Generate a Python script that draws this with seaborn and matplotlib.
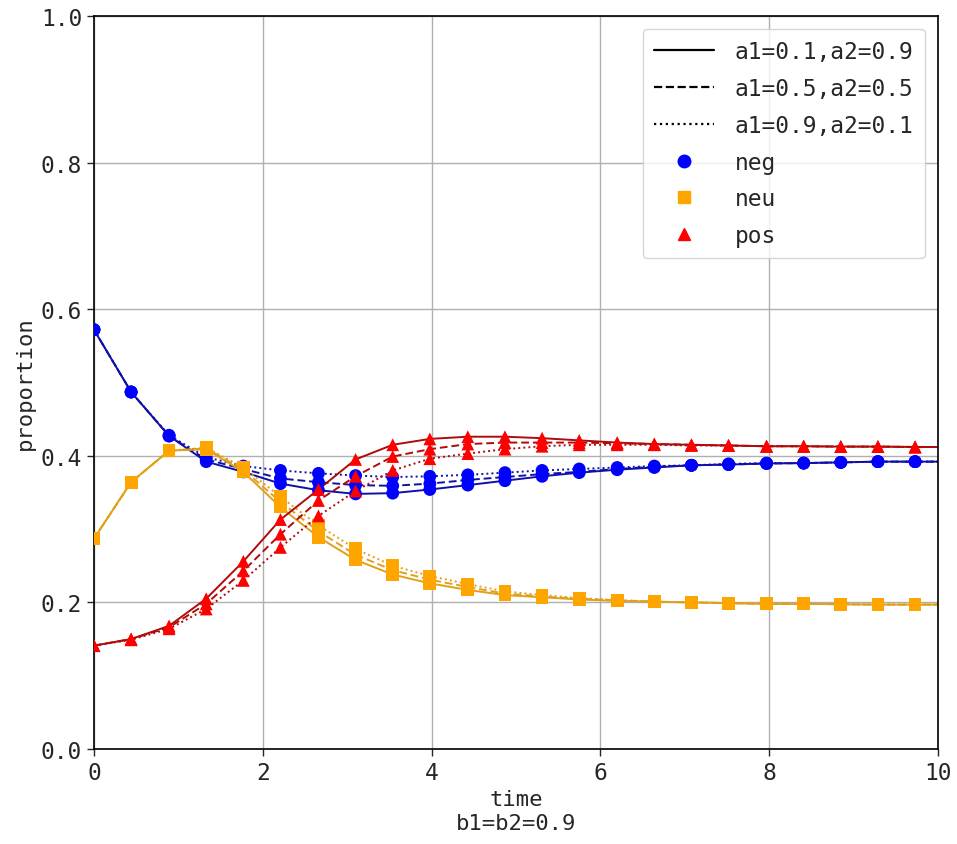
import seaborn as sns
import matplotlib
matplotlib.use("Agg")
import matplotlib.pyplot as plt
from matplotlib.lines import Line2D
import pandas as pd

# time points (markers at all but the last one)
time = [0.0, 0.44, 0.89, 1.33, 1.77, 2.21, 2.66, 3.10, 3.54, 3.98, 4.43, 4.87,
        5.31, 5.75, 6.20, 6.64, 7.08, 7.52, 7.97, 8.41, 8.85, 9.29, 9.73, 10.0]

settings = ["a1=0.1,a2=0.9", "a1=0.5,a2=0.5", "a1=0.9,a2=0.1"]
groups = ["neg", "neu", "pos"]

neg_1 = [0.572, 0.487, 0.427, 0.392, 0.378, 0.362, 0.353, 0.348, 0.349, 0.354, 0.360, 0.366,
         0.372, 0.377, 0.381, 0.384, 0.387, 0.388, 0.3895, 0.390, 0.391, 0.392, 0.392, 0.392]
neg_2 = [0.572, 0.487, 0.427, 0.395, 0.382, 0.369, 0.364, 0.360, 0.359, 0.362, 0.367, 0.371,
         0.375, 0.378, 0.382, 0.385, 0.387, 0.388, 0.3895, 0.390, 0.391, 0.392, 0.392, 0.392]
neg_3 = [0.572, 0.487, 0.428, 0.398, 0.386, 0.380, 0.376, 0.373, 0.371, 0.372, 0.374, 0.377,
         0.380, 0.382, 0.384, 0.386, 0.387, 0.389, 0.390, 0.390, 0.391, 0.392, 0.392, 0.392]

neu_1 = [0.287, 0.364, 0.407, 0.409, 0.378, 0.330, 0.289, 0.258, 0.238, 0.226, 0.217, 0.210,
         0.207, 0.204, 0.202, 0.201, 0.200, 0.199, 0.198, 0.198, 0.1975, 0.197, 0.197, 0.197]
neu_2 = [0.287, 0.364, 0.407, 0.410, 0.381, 0.337, 0.297, 0.265, 0.244, 0.231, 0.221, 0.212,
         0.208, 0.205, 0.203, 0.201, 0.200, 0.199, 0.198, 0.198, 0.1975, 0.197, 0.197, 0.197]
neu_3 = [0.287, 0.364, 0.407, 0.411, 0.384, 0.344, 0.305, 0.273, 0.250, 0.236, 0.225, 0.215,
         0.210, 0.206, 0.203, 0.201, 0.200, 0.199, 0.198, 0.198, 0.1975, 0.197, 0.197, 0.197]

pos_1 = [0.141, 0.150, 0.168, 0.205, 0.256, 0.313, 0.354, 0.395, 0.415, 0.423, 0.426, 0.426,
         0.424, 0.421, 0.418, 0.416, 0.415, 0.414, 0.413, 0.413, 0.4125, 0.4125, 0.412, 0.412]
pos_2 = [0.141, 0.150, 0.166, 0.198, 0.243, 0.293, 0.339, 0.372, 0.399, 0.409, 0.416, 0.418,
         0.418, 0.418, 0.417, 0.416, 0.415, 0.414, 0.413, 0.413, 0.4125, 0.4125, 0.412, 0.412]
pos_3 = [0.141, 0.149, 0.164, 0.191, 0.230, 0.275, 0.318, 0.352, 0.380, 0.396, 0.403, 0.409,
         0.413, 0.415, 0.415, 0.415, 0.414, 0.414, 0.413, 0.413, 0.4125, 0.4125, 0.412, 0.412]

series = {
    ("neg", settings[0]): neg_1, ("neg", settings[1]): neg_2, ("neg", settings[2]): neg_3,
    ("neu", settings[0]): neu_1, ("neu", settings[1]): neu_2, ("neu", settings[2]): neu_3,
    ("pos", settings[0]): pos_1, ("pos", settings[1]): pos_2, ("pos", settings[2]): pos_3,
}

rows = []
for (g, s), vals in series.items():
    for i, (t, v) in enumerate(zip(time, vals)):
        rows.append({"time": t, "proportion": v, "group": g, "setting": s,
                     "marked": i < len(time) - 1})
df = pd.DataFrame(rows)

line_colors = {"neg": "#1010a8", "neu": "#e0a01a", "pos": "#b00a0a"}
marker_colors = {"neg": "#0000ff", "neu": "#ffa500", "pos": "#ff0000"}
marker_shapes = {"neg": "o", "neu": "s", "pos": "^"}
dash_styles = {settings[0]: "", settings[1]: (4, 2), settings[2]: (1, 1.6)}

sns.set_style("ticks")
plt.rcParams["font.family"] = ["DejaVu Sans Mono"]

fig, ax = plt.subplots(figsize=(9.57, 8.45), dpi=100)
fig.subplots_adjust(left=0.0982, right=0.980, top=0.980, bottom=0.1124)

sns.lineplot(data=df, x="time", y="proportion", hue="group", style="setting",
             palette=line_colors, dashes=dash_styles, estimator=None, sort=False,
             units="setting", linewidth=1.4, legend=False, ax=ax, zorder=2)
sns.scatterplot(data=df[df["marked"]], x="time", y="proportion", hue="group",
                style="group", markers=marker_shapes, palette=marker_colors,
                s=85, linewidth=0, legend=False, ax=ax, zorder=3)

ax.set_xlim(0, 10)
ax.set_ylim(0, 1)
ax.set_xticks([0, 2, 4, 6, 8, 10])
ax.set_yticks([0.0, 0.2, 0.4, 0.6, 0.8, 1.0])
ax.grid(True, color="#b0b0b0", linewidth=1)
ax.set_axisbelow(True)
for sp in ax.spines.values():
    sp.set_visible(True)
    sp.set_color("black")
    sp.set_linewidth(1.2)
ax.tick_params(labelsize=16.5, length=5, width=1, direction="out")
ax.set_xlabel("time\nb1=b2=0.9", fontsize=16, linespacing=1.25, labelpad=4)
ax.set_ylabel("proportion", fontsize=16, labelpad=4)

handles = [
    Line2D([], [], color="black", linestyle="-", linewidth=1.6),
    Line2D([], [], color="black", linestyle="--", linewidth=1.6),
    Line2D([], [], color="black", linestyle=":", linewidth=1.6),
    Line2D([], [], color=marker_colors["neg"], marker="o", linestyle="", markersize=9),
    Line2D([], [], color=marker_colors["neu"], marker="s", linestyle="", markersize=9),
    Line2D([], [], color=marker_colors["pos"], marker="^", linestyle="", markersize=9),
]
ax.legend(handles, settings + groups, loc="upper right", fontsize=16.5,
          handlelength=2.6, handletextpad=0.9, labelspacing=0.6, borderpad=0.5,
          framealpha=0.8, edgecolor="#cccccc", fancybox=True,
          bbox_to_anchor=(0.998, 0.998))

fig.savefig("out.png", dpi=100)
